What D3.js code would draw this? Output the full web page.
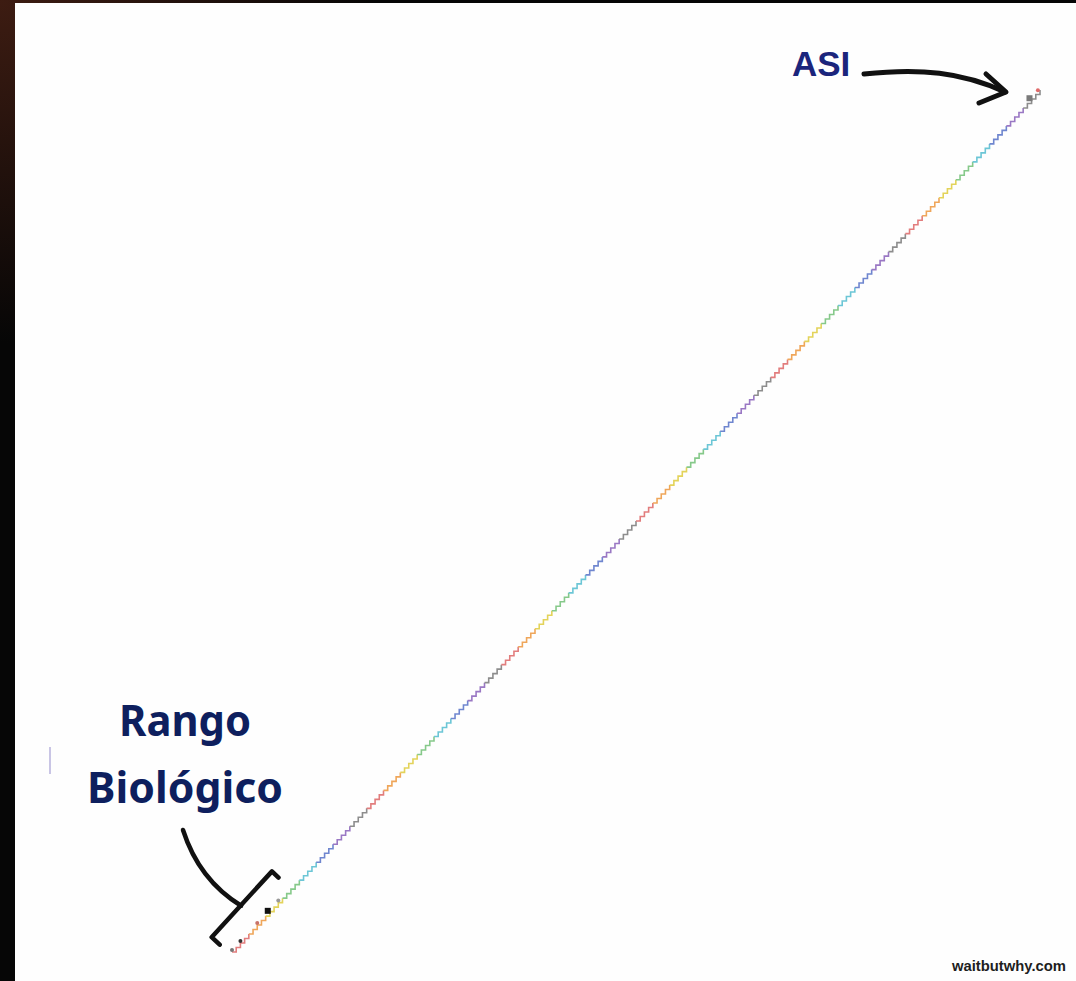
<!DOCTYPE html>
<html>
<head>
<meta charset="utf-8">
<script src="https://cdn.jsdelivr.net/npm/d3@7"></script>
<style>
  html, body { margin: 0; padding: 0; background: #050505; overflow: hidden; }
  svg { display: block; }
</style>
</head>
<body>
<div id="chart"></div>
<script>
// intelligence staircase: number of levels and colour cycle of the steps
var levelCount = 192
var stepsPerSegment = 4
var stepColors = ["#e27d7d", "#efa65a", "#e3d35a", "#86c98a", "#6cc6d6", "#6f86cf", "#9a78c4", "#8d8d8d"]

// little creatures sitting on the staircase (level, colour)
var creatures = [
  {level: 0, color: "#777", shape: "dot"},
  {level: 2, color: "#333", shape: "dot"},
  {level: 6, color: "#c8736a", shape: "dot"},
  {level: 8.5, color: "#111", shape: "square"},
  {level: 11, color: "#999", shape: "dot"},
  {level: 189.5, color: "#7a7a7a", shape: "square"},
  {level: 191.5, color: "#e06a6a", shape: "dot"}
]

var labels = {top: "ASI", bottom: ["Rango", "Biológico"], credit: "waitbutwhy.com"}
var biologicalRange = [0, 14]

var width = 1076, height = 981

var svg = d3.select("#chart").append("svg")
    .attr("width", width)
    .attr("height", height)

var defs = svg.append("defs")
var grad = defs.append("radialGradient").attr("id", "bg")
    .attr("cx", 0).attr("cy", 0).attr("r", 0.35)
grad.append("stop").attr("offset", "0%").attr("stop-color", "#3d1c12")
grad.append("stop").attr("offset", "100%").attr("stop-color", "#060606")

svg.append("rect").attr("width", width).attr("height", height).attr("fill", "url(#bg)")
svg.append("rect").attr("x", 15).attr("y", 3).attr("width", width - 15).attr("height", height - 3).attr("fill", "#fefefe")

var xScale = d3.scaleLinear().domain([0, levelCount]).range([232, 1040])
var yScale = d3.scaleLinear().domain([0, levelCount]).range([952, 90])

var step = d3.line()
    .x(d => xScale(d))
    .y(d => yScale(d))
    .curve(d3.curveStepAfter)

// split the staircase into coloured pieces
var segments = []
for (var s = 0; s * stepsPerSegment < levelCount; s++) {
    var from = s * stepsPerSegment
    var to = Math.min(levelCount, from + stepsPerSegment)
    segments.push({levels: d3.range(from, to + 1), color: stepColors[s % stepColors.length]})
}

svg.append("g")
    .selectAll("path")
    .data(segments)
    .enter().append("path")
    .attr("d", d => step(d.levels))
    .attr("fill", "none")
    .attr("stroke", d => d.color)
    .attr("stroke-width", 1.6)

var marks = svg.append("g")
marks.selectAll("circle")
    .data(creatures.filter(d => d.shape == "dot"))
    .enter().append("circle")
    .attr("cx", d => xScale(d.level))
    .attr("cy", d => yScale(d.level) - 2)
    .attr("r", 2)
    .attr("fill", d => d.color)
marks.selectAll("rect")
    .data(creatures.filter(d => d.shape == "square"))
    .enter().append("rect")
    .attr("x", d => xScale(d.level) - 3)
    .attr("y", d => yScale(d.level) - 6)
    .attr("width", 6)
    .attr("height", 6)
    .attr("fill", d => d.color)

// bracket around the biological range, offset to the upper-left of the stairs
var dir = [xScale(levelCount) - xScale(0), yScale(levelCount) - yScale(0)]
var len = Math.hypot(dir[0], dir[1])
var u = [dir[0] / len, dir[1] / len]
var n = [u[1], -u[0]]  // perpendicular pointing up-left
function along(level, off) {
    return [xScale(level) + n[0] * off, yScale(level) + n[1] * off]
}
var b0 = along(biologicalRange[0] - 0.5, 25)
var b1 = along(biologicalRange[1], 26)
var s0 = along(biologicalRange[0] - 0.5, 14)
var s1 = along(biologicalRange[1], 17)
var ink = svg.append("g").attr("fill", "none").attr("stroke", "#111").attr("stroke-linecap", "round").attr("stroke-linejoin", "round")
ink.append("path")
    .attr("d", `M${s0}L${b0}L${b1}L${s1}`)
    .attr("stroke-width", 4.5)
var mid = along((biologicalRange[0] + biologicalRange[1]) / 2 - 0.5, 25)
ink.append("path")
    .attr("d", `M183,830Q199,880 ${mid}`)
    .attr("stroke-width", 4.5)

// arrow pointing at the top of the staircase
ink.append("path")
    .attr("d", "M864,74C920,68 962,72 1005,92")
    .attr("stroke-width", 5)
ink.append("path")
    .attr("d", "M986,74L1006,92L979,103")
    .attr("stroke-width", 5)

svg.append("text")
    .attr("x", 792)
    .attr("y", 76)
    .attr("font-family", "Liberation Sans, Arial, sans-serif")
    .attr("font-weight", "bold")
    .attr("font-size", 35)
    .attr("fill", "#1b257c")
    .text(labels.top)

// faint mark left of the label
svg.append("line").attr("x1", 50).attr("x2", 50).attr("y1", 747).attr("y2", 774)
    .attr("stroke", "#b7b2dc").attr("stroke-width", 1.5)

var lab = svg.append("text")
    .attr("font-family", "Noto Sans, sans-serif")
    .attr("font-weight", "bold")
    .attr("font-size", 43)
    .attr("fill", "#0e1f5e")
    .attr("text-anchor", "middle")
lab.append("tspan").attr("x", 185).attr("y", 736).attr("textLength", 132).attr("lengthAdjust", "spacingAndGlyphs").text(labels.bottom[0])
lab.append("tspan").attr("x", 185).attr("y", 803).attr("textLength", 196).attr("lengthAdjust", "spacingAndGlyphs").text(labels.bottom[1])

svg.append("text")
    .attr("x", 952)
    .attr("y", 971)
    .attr("font-family", "Liberation Sans, Arial, sans-serif")
    .attr("font-weight", "bold")
    .attr("font-size", 15.5)
    .attr("textLength", 114)
    .attr("lengthAdjust", "spacingAndGlyphs")
    .attr("fill", "#1e1e1e")
    .text(labels.credit)
</script>
</body>
</html>
